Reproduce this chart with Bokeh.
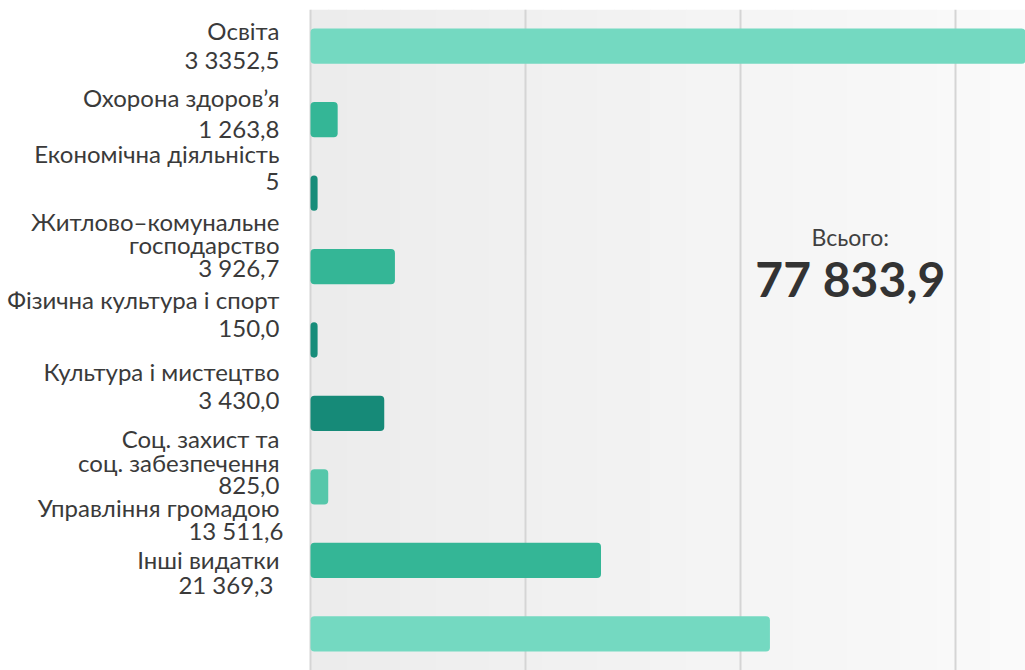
from bokeh.plotting import figure
from bokeh.models import ColumnDataSource, LabelSet, Label, FixedTicker, Range1d, BoxAnnotation
from bokeh.core.properties import value
from bokeh.embed import file_html
from bokeh.resources import INLINE

# ---- data ----
categories = [
    "Освіта",
    "Охорона здоров’я",
    "Економічна діяльність",
    "Житлово–комунальне\nгосподарство",
    "Фізична культура і спорт",
    "Культура і мистецтво",
    "Соц. захист та\nсоц. забезпечення",
    "Управління громадою",
    "Інші видатки",
]
values = [33352.5, 1263.8, 5.0, 3926.7, 150.0, 3430.0, 825.0, 13511.6, 21369.3]
value_labels = ["3 3352,5", "1 263,8", "5", "3 926,7", "150,0", "3 430,0", "825,0", "13 511,6", "21 369,3"]
bar_colors = ["#74d9c1", "#34b696", "#178d7a", "#34b696", "#178d7a", "#168a78",
              "#56c7aa", "#34b696", "#74d9c1"]
grid_ticks = [0, 10000, 20000, 30000]
total_caption = "Всього:"
total_text = "77 833,9"

# ---- layout / style ----
PX_PER_UNIT = 715 / 33256.0
X_MAX = 33256
X_MIN = -310 / PX_PER_UNIT   # label area left of the value axis
MIN_BAR = 330  # minimum visible bar length (as in source chart)
FONT = "Lato"
# vertical positions of each label line relative to bar centre (px, downward)
line_shift = [[-14, 15], [-20, 11], [-38, -10], [-43, -20, 3], [-39, -10],
              [-40, -12], [-46, -22, 1], [-51, -28], [-72, -47]]
SHIFT_ALL = -2
# horizontal nudge of the value line (px)
value_dx = [0, 0, 0, 0, 0, 0, 0, 4, -6]

n = len(categories)
ypos = list(range(n))
bar_len = [max(v, MIN_BAR) for v in values]

p = figure(width=1025, height=670, output_backend="svg", toolbar_location=None,
           x_range=Range1d(X_MIN, X_MAX), y_range=Range1d(n - 0.5, -0.5),
           min_border_left=0, min_border_right=0, min_border_top=9, min_border_bottom=0)
p.xaxis.visible = False
p.yaxis.visible = False
p.outline_line_color = None
p.background_fill_color = "white"
p.border_fill_color = "white"
p.ygrid.visible = False
p.xgrid.ticker = FixedTicker(ticks=grid_ticks)
p.xgrid.grid_line_color = "#d5d5d5"
p.xgrid.grid_line_width = 2

# background gradient (light grey -> lighter grey) over the value area
nb = 40
for k in range(nb):
    g = int(round(236 + (250 - 236) * k / (nb - 1)))
    c = "#%02x%02x%02x" % (g, g, g)
    l = X_MAX * k / nb
    r = X_MAX * (k + 1.05) / nb
    p.add_layout(BoxAnnotation(left=l, right=r, fill_color=c, fill_alpha=1.0,
                               line_color=None, level="image"))

src = ColumnDataSource(dict(y=ypos, length=bar_len, color=bar_colors))
p.hbar(y="y", left=0, right="length", height=0.48, fill_color="color",
       line_color=None, source=src, border_radius=4)

# labels
lt, ly, lo, lx = [], [], [], []
for i in range(n):
    lines = categories[i].split("\n") + [value_labels[i]]
    for j, t in enumerate(lines):
        lt.append(t)
        ly.append(ypos[i])
        lo.append(-(line_shift[i][j] + SHIFT_ALL))
        lx.append(-31 + (value_dx[i] if j == len(lines) - 1 else 0))
lsrc = ColumnDataSource(dict(text=lt, y=ly, yoff=lo, xoff=lx))
p.add_layout(LabelSet(x=0, y="y", text="text", source=lsrc, x_offset="xoff", y_offset="yoff",
                      text_align="right", text_baseline="middle", text_font=value(FONT),
                      text_font_size="24px", text_color="#3a3a3a"))

# total
tx = X_MAX * 0.755
p.add_layout(Label(x=tx, y=3, y_offset=30, text=total_caption, text_align="center",
                   text_baseline="middle", text_font=FONT, text_font_size="23px",
                   text_color="#404040"))
p.add_layout(Label(x=tx, y=3, y_offset=-12, text=total_text, text_align="center",
                   text_baseline="middle", text_font=FONT, text_font_size="48px",
                   text_font_style="bold", text_color="#333333"))

open("out.html", "w").write(file_html(p, INLINE))
